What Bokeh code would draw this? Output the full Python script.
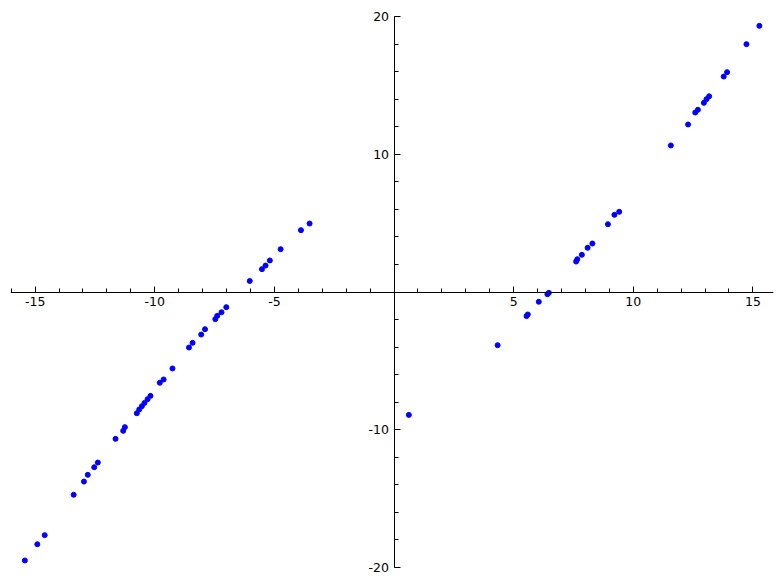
from bokeh.plotting import figure
from bokeh.models import LinearAxis, FixedTicker, Range1d
from bokeh.embed import file_html
from bokeh.resources import INLINE

x_left = [-15.43, -14.91, -14.60, -13.39, -12.96, -12.80, -12.53, -12.38, -11.64, -11.32,
          -11.25, -10.75, -10.65, -10.54, -10.43, -10.30, -10.18, -9.79, -9.63, -9.26,
          -8.57, -8.42, -8.06, -7.90, -7.47, -7.39, -7.21, -7.01, -6.03, -5.52,
          -5.37, -5.19, -4.74, -3.89, -3.53]
y_left = [-19.49, -18.31, -17.65, -14.72, -13.76, -13.27, -12.72, -12.38, -10.66, -10.08,
          -9.81, -8.80, -8.53, -8.29, -8.05, -7.78, -7.54, -6.59, -6.35, -5.55,
          -4.03, -3.69, -3.09, -2.70, -1.97, -1.73, -1.47, -1.10, 0.80, 1.66,
          1.92, 2.29, 3.11, 4.49, 4.97]
x_right = [0.62, 4.33, 5.54, 5.59, 6.05, 6.41, 6.47, 7.61, 7.66, 7.85, 8.09, 8.29, 8.94,
           9.21, 9.41, 11.57, 12.29, 12.59, 12.70, 12.95, 13.06, 13.17, 13.78, 13.92,
           14.73, 15.27]
y_right = [-8.92, -3.86, -1.75, -1.63, -0.71, -0.16, -0.06, 2.21, 2.38, 2.70, 3.21, 3.52,
           4.92, 5.60, 5.82, 10.64, 12.16, 13.03, 13.23, 13.73, 14.00, 14.21, 15.64, 15.96,
           17.99, 19.32]

x_major = [-15, -10, -5, 5, 10, 15]
x_labels = ["-15", "-10", "-5", "5", "10", "15"]
x_minor = list(range(-16, 16))
y_major = [-20, -10, 10, 20]
y_labels = ["-20", "-10", "10", "20"]
y_minor = list(range(-20, 21, 2))

p = figure(frame_width=763, frame_height=567,
           x_range=Range1d(-16.03, 15.86), y_range=Range1d(-20.58, 20.58),
           output_backend="svg", toolbar_location=None,
           x_axis_location=None, y_axis_location=None,
           min_border_left=10, min_border_top=8, min_border_right=3, min_border_bottom=5)
p.outline_line_color = None
p.xgrid.visible = False
p.ygrid.visible = False

xa = LinearAxis(fixed_location=0, ticker=FixedTicker(ticks=x_major, minor_ticks=x_minor))
ya = LinearAxis(fixed_location=0, ticker=FixedTicker(ticks=y_major, minor_ticks=y_minor),
                bounds=(-20, 20))
xa.major_label_overrides = dict(zip(x_major, x_labels))
ya.major_label_overrides = dict(zip(y_major, y_labels))
for ax in (xa, ya):
    ax.axis_line_color = "black"
    ax.major_tick_line_color = "black"
    ax.minor_tick_line_color = "black"
    ax.major_tick_out = 0
    ax.major_tick_in = 6
    ax.minor_tick_out = 0
    ax.minor_tick_in = 4
    ax.major_label_text_color = "black"
    ax.major_label_text_font = "DejaVu Sans"
    ax.major_label_text_font_size = "12.5px"
    ax.major_label_standoff = 5
p.add_layout(xa, "below")
p.add_layout(ya, "left")

xs = x_left + x_right
ys = y_left + y_right
p.scatter(xs, ys, size=5, color="blue")

open("out.html", "w").write(file_html(p, INLINE))
